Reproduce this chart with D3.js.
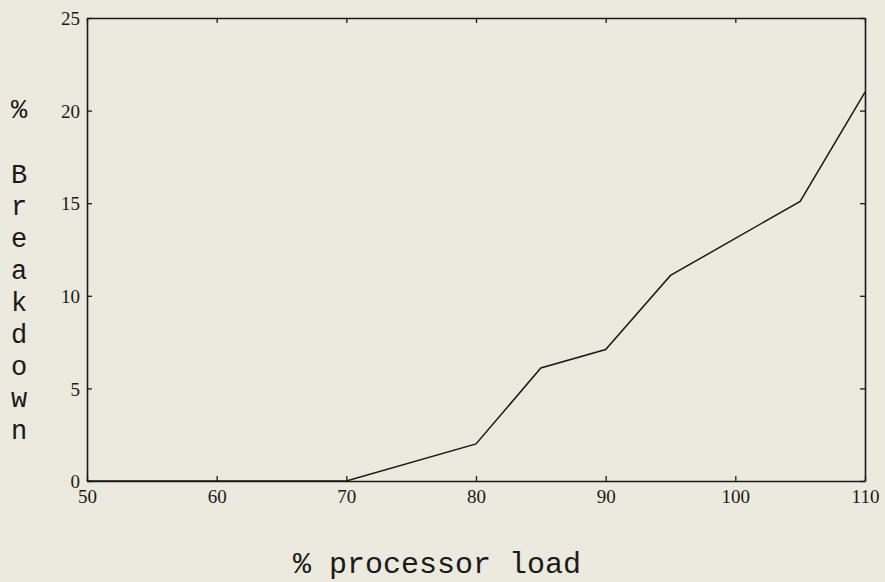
<!DOCTYPE html>
<html>
<head>
<meta charset="utf-8">
<script src="https://cdn.jsdelivr.net/npm/d3@7"></script>
<style>
  body { margin: 0; background: #ece9df; }
  svg { display: block; }
  .tick text { font-family: "Liberation Serif", "DejaVu Serif", serif; font-size: 19px; fill: #1a1a1a; }
  .label { font-family: "Liberation Mono", "DejaVu Sans Mono", monospace; fill: #1a1a1a; }
</style>
</head>
<body>
<svg id="chart" width="885" height="582"></svg>
<script>
var loads = [50, 55, 60, 65, 70, 80, 85, 90, 95, 100, 105, 110];
var breakdown = [0, 0, 0, 0, 0, 2, 6.1, 7.1, 11.1, 13.1, 15.1, 21];
var xTicks = [50, 60, 70, 80, 90, 100, 110];
var yTicks = [0, 5, 10, 15, 20, 25];
var yLetters = ['%', '', 'B', 'r', 'e', 'a', 'k', 'd', 'o', 'w', 'n'];

var margin = {left: 87, right: 20, top: 18, bottom: 101};
var width = 885, height = 582;

var svg = d3.select('#chart');

var x = d3.scaleLinear().domain([50, 110]).range([margin.left, width - margin.right]);
var y = d3.scaleLinear().domain([0, 25]).range([height - margin.bottom, margin.top]);

var ink = '#1a1a1a';

// axes: ticks point inwards on all four sides
var bottom = svg.append('g')
  .attr('transform', 'translate(0,' + y(0) + ')')
  .call(d3.axisBottom(x).tickValues(xTicks).tickSizeInner(-5).tickSizeOuter(0).tickPadding(8));
var top = svg.append('g')
  .attr('transform', 'translate(0,' + y(25) + ')')
  .call(d3.axisTop(x).tickValues(xTicks).tickSizeInner(-5).tickSizeOuter(0).tickFormat(''));
var left = svg.append('g')
  .attr('transform', 'translate(' + x(50) + ',0)')
  .call(d3.axisLeft(y).tickValues(yTicks).tickSizeInner(-5).tickSizeOuter(0).tickPadding(7));
var right = svg.append('g')
  .attr('transform', 'translate(' + x(110) + ',0)')
  .call(d3.axisRight(y).tickValues(yTicks).tickSizeInner(-5).tickSizeOuter(0).tickFormat(''));

svg.selectAll('.domain').attr('stroke', ink).attr('stroke-width', 1.6);
svg.selectAll('.tick line').attr('stroke', ink).attr('stroke-width', 1.3);

bottom.selectAll('.tick text').attr('dy', '0.72em');
left.selectAll('.tick text').attr('dy', '0.35em');

// data line
var line = d3.line()
  .x(function(d) { return x(d[0]); })
  .y(function(d) { return y(d[1]); });

svg.append('path')
  .datum(d3.zip(loads, breakdown))
  .attr('d', line)
  .attr('fill', 'none')
  .attr('stroke', ink)
  .attr('stroke-width', 1.5);

// x axis title
svg.append('text')
  .attr('class', 'label')
  .attr('x', 437)
  .attr('y', 573)
  .attr('text-anchor', 'middle')
  .style('font-size', '30px')
  .text('% processor load');

// y axis title, one letter per line
svg.append('g').selectAll('text')
  .data(yLetters)
  .enter().append('text')
  .attr('class', 'label')
  .attr('x', 19)
  .attr('y', function(d, i) { return 109 + i * 32.1; })
  .attr('dy', '0.35em')
  .attr('text-anchor', 'middle')
  .style('font-size', '27px')
  .text(function(d) { return d; });
</script>
</body>
</html>
